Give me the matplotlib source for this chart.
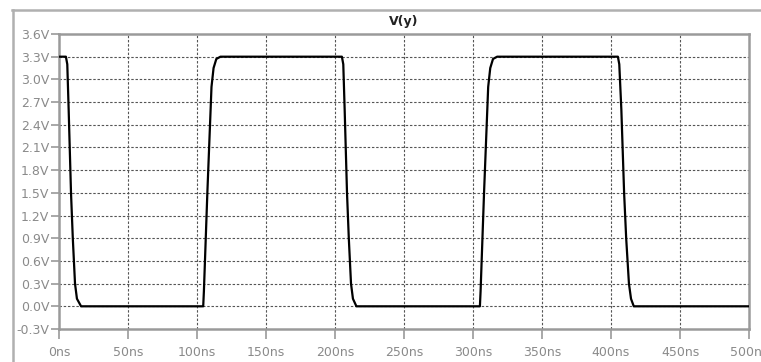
import matplotlib
matplotlib.use("Agg")
import matplotlib.pyplot as plt
from matplotlib.lines import Line2D

# Waveform V(y): time (ns) and voltage (V)
time_ns = [0, 5, 6, 7, 8.7, 10, 11.6, 13, 16,
           104.5, 105, 107.5, 110.5, 112, 114, 117,
           205, 206, 207, 208.7, 210, 211.6, 213, 215.5,
           305, 305.5, 308, 311, 312.5, 314.5, 317.5,
           405, 406, 407.5, 409.5, 411, 413, 414.5, 416.5,
           500]
volts = [3.3, 3.3, 3.2, 2.6, 1.5, 0.9, 0.3, 0.1, 0.0,
         0.0, 0.2, 1.5, 2.9, 3.15, 3.27, 3.3,
         3.3, 3.2, 2.6, 1.5, 0.9, 0.3, 0.1, 0.0,
         0.0, 0.2, 1.5, 2.9, 3.15, 3.27, 3.3,
         3.3, 3.2, 2.6, 1.5, 0.9, 0.3, 0.1, 0.0,
         0.0]

y_ticks = [-0.3, 0.0, 0.3, 0.6, 0.9, 1.2, 1.5, 1.8, 2.1, 2.4, 2.7, 3.0, 3.3, 3.6]
y_labels = ["-0.3V", "0.0V", "0.3V", "0.6V", "0.9V", "1.2V", "1.5V", "1.8V",
            "2.1V", "2.4V", "2.7V", "3.0V", "3.3V", "3.6V"]
x_ticks = [0, 50, 100, 150, 200, 250, 300, 350, 400, 450, 500]
x_labels = ["0ns", "50ns", "100ns", "150ns", "200ns", "250ns", "300ns",
            "350ns", "400ns", "450ns", "500ns"]
title = "V(y)"

W, H = 761, 362
fig = plt.figure(figsize=(W / 100, H / 100), dpi=100)
fig.patch.set_facecolor("white")

L, R, T, B = 59, 749, 34, 329
ax = fig.add_axes([L / W, 1 - B / H, (R - L) / W, (B - T) / H])

frame_col = "#9a9a9a"
text_col = "#8a8a8a"

# grid
for y in y_ticks[1:-1]:
    ax.axhline(y, color="#555555", lw=0.8, ls=(0, (2.2, 1.6)), zorder=1)
for x in x_ticks[1:-1]:
    ax.axvline(x, color="#555555", lw=0.8, ls=(0, (2.2, 1.6)), zorder=1)

ax.plot(time_ns, volts, color="black", lw=1.6, zorder=3, solid_joinstyle="round")

ax.set_xlim(0, 500)
ax.set_ylim(-0.3, 3.6)
ax.set_xticks(x_ticks)
ax.set_xticklabels(x_labels)
ax.set_yticks(y_ticks)
ax.set_yticklabels(y_labels)

for s in ax.spines.values():
    s.set_color(frame_col)
    s.set_linewidth(1.8)

ax.tick_params(axis="both", direction="out", length=6, width=1.2, color=frame_col,
               labelcolor=text_col, labelsize=9, pad=1)
ax.tick_params(axis="x", length=7, pad=5)

# outer border lines and title bar
fig.add_artist(Line2D([12 / W, 1], [1 - 10 / H, 1 - 10 / H], color="#b0b0b0", lw=1.8,
                      transform=fig.transFigure))
fig.add_artist(Line2D([13 / W, 13 / W], [0, 1 - 10 / H], color="#b0b0b0", lw=1.8,
                      transform=fig.transFigure))
fig.text((L + R) / 2 / W, 1 - 22 / H, title, ha="center", va="center",
         fontsize=9, color="#222222", fontweight="bold")

fig.savefig("out.png", dpi=100, facecolor="white")
